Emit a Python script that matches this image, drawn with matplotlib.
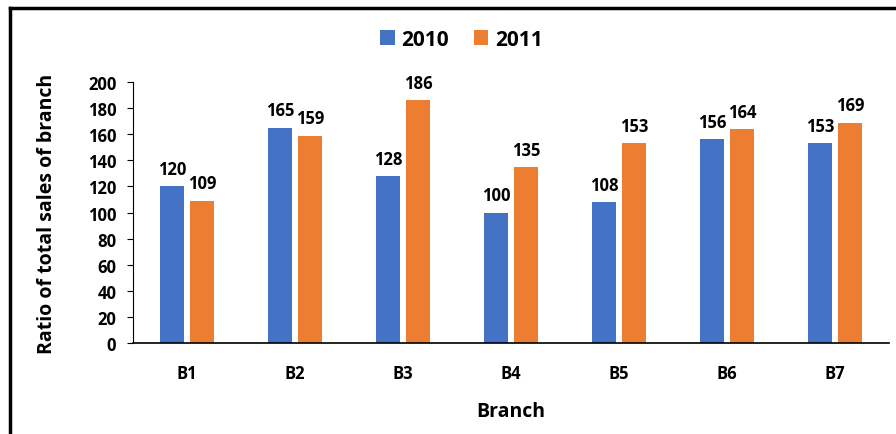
import matplotlib.pyplot as plt
from matplotlib.lines import Line2D
import numpy as np

plt.rcParams['font.family'] = ['Open Sans', 'DejaVu Sans']

branches = ['B1', 'B2', 'B3', 'B4', 'B5', 'B6', 'B7']
sales_2010 = [120, 165, 128, 100, 108, 156, 153]
sales_2011 = [109, 159, 186, 135, 153, 164, 169]

blue = '#4472C4'
orange = '#ED7D31'

fig = plt.figure(figsize=(8.96, 4.35), dpi=100)
ax = fig.add_axes([0.1484, 0.2092, 0.8436, 0.5998])

x = np.arange(len(branches))
w = 0.222
off = 0.139
b1 = ax.bar(x - off, sales_2010, width=w, color=blue, label='2010')
b2 = ax.bar(x + off, sales_2011, width=w, color=orange, label='2011')

for bars in (b1, b2):
    for r in bars:
        ax.annotate(str(int(r.get_height())), (r.get_x() + r.get_width() / 2, r.get_height()),
                    xytext=(0, 6), textcoords='offset points', ha='center', va='bottom',
                    fontsize=12, fontweight='bold')

ax.set_xlim(-0.5, len(branches) - 0.5)
ax.set_ylim(0, 200)
ax.set_yticks(range(0, 201, 20))
ax.set_xticks(x)
ax.set_xticklabels(branches)
ax.tick_params(axis='x', length=0, pad=15, labelsize=12)
ax.tick_params(axis='y', length=4, width=0.8, labelsize=12, pad=8)
for lab in ax.get_xticklabels() + ax.get_yticklabels():
    lab.set_fontweight('bold')

ax.spines['top'].set_visible(False)
ax.spines['right'].set_visible(False)
ax.spines['left'].set_linewidth(0.8)
ax.spines['bottom'].set_linewidth(1.2)

ax.set_ylabel('Ratio of total sales of branch', fontsize=14, fontweight='bold', labelpad=22)
ax.set_xlabel('Branch', fontsize=14, fontweight='bold', labelpad=14)

fig.legend(loc='center', bbox_to_anchor=(0.515, 0.908), ncol=2, frameon=False,
           prop={'size': 15, 'weight': 'bold'}, handlelength=0.7, handleheight=0.7,
           handletextpad=0.3, columnspacing=1.2)

# frame
fig.add_artist(Line2D([0.011, 0.011], [0.0, 0.979], color='black', lw=2.5, transform=fig.transFigure))
fig.add_artist(Line2D([0.011, 1.0], [0.979, 0.979], color='black', lw=2.5, transform=fig.transFigure))

plt.savefig('out.png', dpi=100)
